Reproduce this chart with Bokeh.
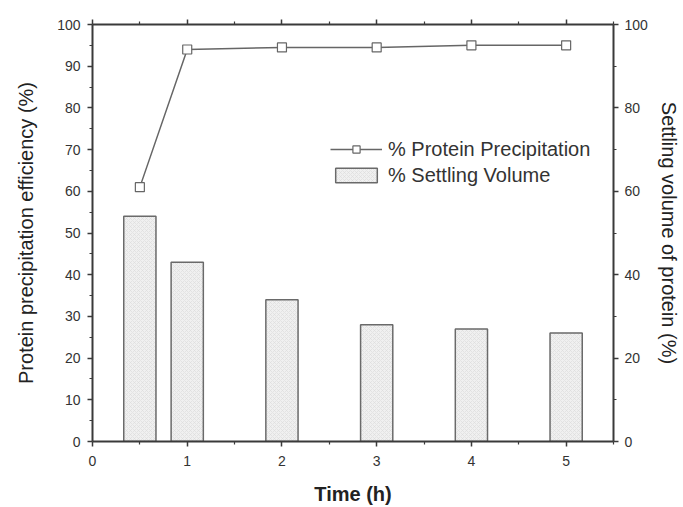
from bokeh.plotting import figure
from bokeh.models import Range1d, LinearAxis, FixedTicker, Legend, LegendItem, ColumnDataSource
from bokeh.embed import file_html
from bokeh.resources import INLINE

# data
time_h = [0.5, 1, 2, 3, 4, 5]
protein_precip = [61, 94, 94.5, 94.5, 95, 95]
settling_volume = [54, 43, 34, 28, 27, 26]
x_ticks = [0, 1, 2, 3, 4, 5]
left_ticks = [0, 10, 20, 30, 40, 50, 60, 70, 80, 90, 100]
right_ticks = [0, 20, 40, 60, 80, 100]

FONT = "Liberation Sans"
AX = "#3a3a3a"

p = figure(width=683, height=507, output_backend="svg", toolbar_location=None,
           x_range=Range1d(0, 5.5), y_range=Range1d(0, 100),
           min_border_left=92, min_border_right=70, min_border_top=24, min_border_bottom=64)
p.extra_y_ranges = {"right": Range1d(0, 100)}
p.grid.visible = False
p.outline_line_color = None
p.background_fill_color = "white"
p.border_fill_color = "white"

src_bar = ColumnDataSource(dict(x=time_h, top=settling_volume))
bars = p.vbar(x="x", top="top", width=0.34, bottom=0, source=src_bar, y_range_name="right",
              fill_color="#f0f0f0", line_color="#6a6a6a", line_width=1.5,
              hatch_pattern="x", hatch_color="#dadada", hatch_scale=4, hatch_weight=0.6)

src_line = ColumnDataSource(dict(x=time_h, y=protein_precip))
ln = p.line("x", "y", source=src_line, line_color="#666666", line_width=1.5)
sc = p.scatter("x", "y", source=src_line, marker="square", size=9,
               fill_color="white", line_color="#666666", line_width=1.2)

def style(ax):
    ax.axis_line_color = AX
    ax.axis_line_width = 2
    ax.major_tick_line_color = AX
    ax.minor_tick_line_color = AX
    ax.major_tick_line_width = 1.5
    ax.minor_tick_line_width = 1.2
    ax.major_tick_out = 5
    ax.major_tick_in = 0
    ax.minor_tick_out = 3
    ax.minor_tick_in = 0
    ax.major_label_text_font = FONT
    ax.major_label_text_font_size = "14px"
    ax.major_label_text_color = "#333333"
    ax.axis_label_text_font = FONT
    ax.axis_label_text_font_size = "20px"
    ax.axis_label_text_font_style = "normal"
    ax.axis_label_text_color = "#222222"

xa = p.xaxis[0]
xa.ticker = FixedTicker(ticks=x_ticks, minor_ticks=[0.5, 1.5, 2.5, 3.5, 4.5, 5.5])
xa.axis_label = "Time (h)"
style(xa)
xa.axis_label_text_font_style = "bold"
xa.major_label_standoff = 9
xa.axis_label_standoff = 14

ya = p.yaxis[0]
ya.ticker = FixedTicker(ticks=left_ticks, minor_ticks=list(range(5, 100, 10)))
ya.axis_label = "Protein precipitation efficiency (%)"
style(ya)
ya.major_label_standoff = 7
ya.axis_label_standoff = 17

ra = LinearAxis(y_range_name="right", axis_label="Settling volume of protein (%)",
                ticker=FixedTicker(ticks=right_ticks, minor_ticks=[10, 30, 50, 70, 90]))
style(ra)
ra.major_label_standoff = 6
ra.axis_label_standoff = 7
p.add_layout(ra, "right")

ta = LinearAxis(ticker=FixedTicker(ticks=x_ticks, minor_ticks=[0.5, 1.5, 2.5, 3.5, 4.5, 5.5]))
style(ta)
ta.major_label_overrides = {t: "" for t in x_ticks}
p.add_layout(ta, "above")

legend = Legend(items=[LegendItem(label="% Protein Precipitation", renderers=[ln, sc]),
                       LegendItem(label="% Settling Volume", renderers=[bars])],
                location=(238, 254), background_fill_alpha=0, border_line_color=None,
                label_text_font=FONT, label_text_font_size="20px", label_text_color="#333333",
                glyph_width=52, glyph_height=18, label_height=24, spacing=2,
                label_standoff=6, padding=0, margin=0)
p.add_layout(legend)

open("out.html", "w").write(file_html(p, INLINE))
